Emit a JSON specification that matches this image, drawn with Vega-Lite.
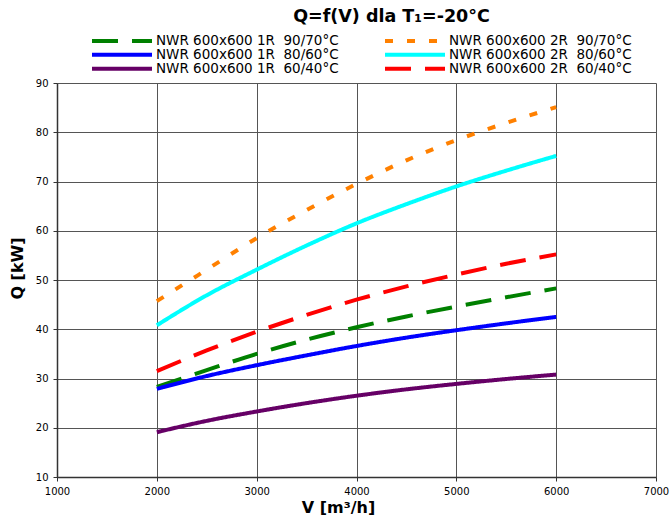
{
  "$schema": "https://vega.github.io/schema/vega-lite/v6.json",
  "width": 599,
  "height": 394,
  "autosize": "none",
  "padding": {"left": 57, "top": 83, "right": 15, "bottom": 40},
  "background": "white",
  "title": {
    "text": "Q=f(V) dla T₁=-20°C",
    "font": "DejaVu Sans",
    "fontSize": 17.5,
    "fontWeight": "bold",
    "color": "black",
    "anchor": "middle",
    "dx": 35,
    "offset": 9
  },
  "config": {
    "view": {"stroke": null},
    "font": "DejaVu Sans",
    "axis": {
      "labelFont": "DejaVu Sans",
      "labelFontSize": 10,
      "labelColor": "black",
      "labelFlush": false,
      "titleFont": "DejaVu Sans",
      "titleFontSize": 16,
      "titleFontWeight": "bold",
      "titleColor": "black",
      "gridColor": "#555555",
      "gridWidth": 1,
      "gridOpacity": 1,
      "domainColor": "#333333",
      "domainWidth": 1.5,
      "tickColor": "#333333",
      "tickSize": 4,
      "labelPadding": 5
    },
    "legend": {
      "labelFont": "DejaVu Sans",
      "labelFontSize": 13.5,
      "labelColor": "black",
      "labelLimit": 400,
      "labelOffset": 2,
      "symbolType": "stroke",
      "symbolSize": 3600,
      "symbolStrokeWidth": 4,
      "padding": 0,
      "rowPadding": 0,
      "clipHeight": 13.5,
      "columnPadding": 44
    }
  },
  "data": {
    "values": [
      {"s": "NWR 600x600 1R\u00a0 90/70°C", "V": 2000, "Q": 28.3},
      {"s": "NWR 600x600 1R\u00a0 90/70°C", "V": 2500, "Q": 31.7},
      {"s": "NWR 600x600 1R\u00a0 90/70°C", "V": 3000, "Q": 35.0},
      {"s": "NWR 600x600 1R\u00a0 90/70°C", "V": 3500, "Q": 37.9},
      {"s": "NWR 600x600 1R\u00a0 90/70°C", "V": 4000, "Q": 40.4},
      {"s": "NWR 600x600 1R\u00a0 90/70°C", "V": 4500, "Q": 42.6},
      {"s": "NWR 600x600 1R\u00a0 90/70°C", "V": 5000, "Q": 44.6},
      {"s": "NWR 600x600 1R\u00a0 90/70°C", "V": 5500, "Q": 46.5},
      {"s": "NWR 600x600 1R\u00a0 90/70°C", "V": 6000, "Q": 48.3},
      {"s": "NWR 600x600 2R\u00a0 90/70°C", "V": 2000, "Q": 45.7},
      {"s": "NWR 600x600 2R\u00a0 90/70°C", "V": 2500, "Q": 52.1},
      {"s": "NWR 600x600 2R\u00a0 90/70°C", "V": 3000, "Q": 58.5},
      {"s": "NWR 600x600 2R\u00a0 90/70°C", "V": 3500, "Q": 64.2},
      {"s": "NWR 600x600 2R\u00a0 90/70°C", "V": 4000, "Q": 69.5},
      {"s": "NWR 600x600 2R\u00a0 90/70°C", "V": 4500, "Q": 74.3},
      {"s": "NWR 600x600 2R\u00a0 90/70°C", "V": 5000, "Q": 78.4},
      {"s": "NWR 600x600 2R\u00a0 90/70°C", "V": 5500, "Q": 81.9},
      {"s": "NWR 600x600 2R\u00a0 90/70°C", "V": 6000, "Q": 85.1},
      {"s": "NWR 600x600 1R\u00a0 80/60°C", "V": 2000, "Q": 27.9},
      {"s": "NWR 600x600 1R\u00a0 80/60°C", "V": 2500, "Q": 30.5},
      {"s": "NWR 600x600 1R\u00a0 80/60°C", "V": 3000, "Q": 32.7},
      {"s": "NWR 600x600 1R\u00a0 80/60°C", "V": 3500, "Q": 34.7},
      {"s": "NWR 600x600 1R\u00a0 80/60°C", "V": 4000, "Q": 36.6},
      {"s": "NWR 600x600 1R\u00a0 80/60°C", "V": 4500, "Q": 38.3},
      {"s": "NWR 600x600 1R\u00a0 80/60°C", "V": 5000, "Q": 39.8},
      {"s": "NWR 600x600 1R\u00a0 80/60°C", "V": 5500, "Q": 41.2},
      {"s": "NWR 600x600 1R\u00a0 80/60°C", "V": 6000, "Q": 42.5},
      {"s": "NWR 600x600 2R\u00a0 80/60°C", "V": 2000, "Q": 40.8},
      {"s": "NWR 600x600 2R\u00a0 80/60°C", "V": 2500, "Q": 46.9},
      {"s": "NWR 600x600 2R\u00a0 80/60°C", "V": 3000, "Q": 52.1},
      {"s": "NWR 600x600 2R\u00a0 80/60°C", "V": 3500, "Q": 57.0},
      {"s": "NWR 600x600 2R\u00a0 80/60°C", "V": 4000, "Q": 61.5},
      {"s": "NWR 600x600 2R\u00a0 80/60°C", "V": 4500, "Q": 65.4},
      {"s": "NWR 600x600 2R\u00a0 80/60°C", "V": 5000, "Q": 69.0},
      {"s": "NWR 600x600 2R\u00a0 80/60°C", "V": 5500, "Q": 72.2},
      {"s": "NWR 600x600 2R\u00a0 80/60°C", "V": 6000, "Q": 75.2},
      {"s": "NWR 600x600 1R\u00a0 60/40°C", "V": 2000, "Q": 19.1},
      {"s": "NWR 600x600 1R\u00a0 60/40°C", "V": 2500, "Q": 21.4},
      {"s": "NWR 600x600 1R\u00a0 60/40°C", "V": 3000, "Q": 23.3},
      {"s": "NWR 600x600 1R\u00a0 60/40°C", "V": 3500, "Q": 25.0},
      {"s": "NWR 600x600 1R\u00a0 60/40°C", "V": 4000, "Q": 26.5},
      {"s": "NWR 600x600 1R\u00a0 60/40°C", "V": 4500, "Q": 27.8},
      {"s": "NWR 600x600 1R\u00a0 60/40°C", "V": 5000, "Q": 28.9},
      {"s": "NWR 600x600 1R\u00a0 60/40°C", "V": 5500, "Q": 29.9},
      {"s": "NWR 600x600 1R\u00a0 60/40°C", "V": 6000, "Q": 30.8},
      {"s": "NWR 600x600 2R\u00a0 60/40°C", "V": 2000, "Q": 31.5},
      {"s": "NWR 600x600 2R\u00a0 60/40°C", "V": 2500, "Q": 35.7},
      {"s": "NWR 600x600 2R\u00a0 60/40°C", "V": 3000, "Q": 39.5},
      {"s": "NWR 600x600 2R\u00a0 60/40°C", "V": 3500, "Q": 42.9},
      {"s": "NWR 600x600 2R\u00a0 60/40°C", "V": 4000, "Q": 46.0},
      {"s": "NWR 600x600 2R\u00a0 60/40°C", "V": 4500, "Q": 48.7},
      {"s": "NWR 600x600 2R\u00a0 60/40°C", "V": 5000, "Q": 51.1},
      {"s": "NWR 600x600 2R\u00a0 60/40°C", "V": 5500, "Q": 53.3},
      {"s": "NWR 600x600 2R\u00a0 60/40°C", "V": 6000, "Q": 55.2}
    ]
  },
  "mark": {"type": "line", "strokeWidth": 4, "interpolate": "monotone", "clip": true},
  "encoding": {
    "x": {
      "field": "V",
      "type": "quantitative",
      "scale": {"domain": [1000, 7000], "nice": false, "zero": false},
      "axis": {
        "values": [1000, 2000, 3000, 4000, 5000, 6000, 7000],
        "format": "d",
        "title": "V [m³/h]",
        "titlePadding": 3,
        "titleX": 281
      }
    },
    "y": {
      "field": "Q",
      "type": "quantitative",
      "scale": {"domain": [10, 90], "nice": false, "zero": false},
      "axis": {
        "values": [10, 20, 30, 40, 50, 60, 70, 80, 90],
        "title": "Q [kW]",
        "titlePadding": 10,
        "titleY": 185
      }
    },
    "color": {
      "field": "s",
      "type": "nominal",
      "title": null,
      "scale": {
        "domain": [
          "NWR 600x600 1R\u00a0 90/70°C",
          "NWR 600x600 2R\u00a0 90/70°C",
          "NWR 600x600 1R\u00a0 80/60°C",
          "NWR 600x600 2R\u00a0 80/60°C",
          "NWR 600x600 1R\u00a0 60/40°C",
          "NWR 600x600 2R\u00a0 60/40°C"
        ],
        "range": ["#008000", "#FF8000", "#0000FF", "#00FFFF", "#660066", "#FF0000"]
      },
      "legend": {"orient": "none", "legendX": 33, "legendY": -49, "columns": 2, "direction": "horizontal", "rowPadding": -1}
    },
    "strokeDash": {
      "field": "s",
      "type": "nominal",
      "title": null,
      "scale": {
        "domain": [
          "NWR 600x600 1R\u00a0 90/70°C",
          "NWR 600x600 2R\u00a0 90/70°C",
          "NWR 600x600 1R\u00a0 80/60°C",
          "NWR 600x600 2R\u00a0 80/60°C",
          "NWR 600x600 1R\u00a0 60/40°C",
          "NWR 600x600 2R\u00a0 60/40°C"
        ],
        "range": [[26, 14], [8, 14], [1, 0], [1, 0], [1, 0], [26, 14]]
      },
      "legend": {"orient": "none", "legendX": 33, "legendY": -49, "columns": 2, "direction": "horizontal", "rowPadding": -1}
    }
  }
}
